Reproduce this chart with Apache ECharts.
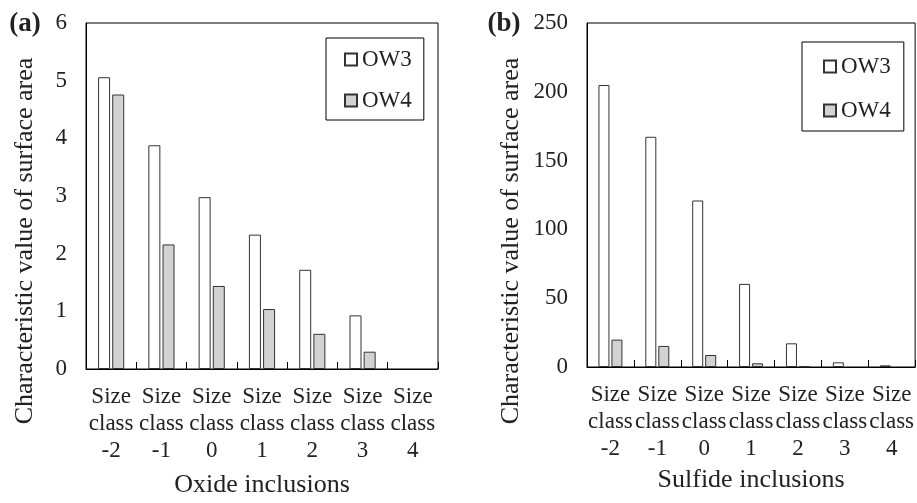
<!DOCTYPE html>
<html>
<head>
<meta charset="utf-8">
<script src="https://cdn.jsdelivr.net/npm/echarts@6/dist/echarts.min.js"></script>
<style>html,body{margin:0;padding:0;background:#fff;}#c{width:917px;height:503px;}</style>
</head>
<body>
<div id="c"></div>
<script>
const categories = ['Size\nclass\n-2','Size\nclass\n-1','Size\nclass\n0','Size\nclass\n1','Size\nclass\n2','Size\nclass\n3','Size\nclass\n4'];
// null = no visible bar in the reference
const oxideOW3 = [5.06, 3.88, 2.98, 2.33, 1.72, 0.93, null];
const oxideOW4 = [4.76, 2.16, 1.44, 1.04, 0.61, 0.30, null];
const sulfideOW3 = [204.9, 167.3, 121.0, 60.4, 17.2, 3.4, 1.2];
const sulfideOW4 = [19.9, 15.3, 8.7, 2.7, 0.4, null, null];
const seriesNames = ['OW3', 'OW4'];
const oxideTicks = {min: 0, max: 6, interval: 1};
const sulfideTicks = {min: 0, max: 250, interval: 50};

const FONT = '"Liberation Serif", "Times New Roman", serif';
const INK = '#222';
const chart = echarts.init(document.getElementById('c'), null, {renderer: 'canvas'});

function xAx(idx, name, gap) {
  return {
    type: 'category', gridIndex: idx, data: categories,
    name: name, nameLocation: 'middle', nameGap: gap,
    nameTextStyle: {fontFamily: FONT, fontSize: 26, color: INK},
    axisLine: {lineStyle: {color: '#000', width: 1}},
    axisTick: {show: true, inside: true, length: 7, lineStyle: {color: '#000'}},
    axisLabel: {interval: 0, fontFamily: FONT, fontSize: 23, lineHeight: 27, color: INK, margin: 14},
    splitLine: {show: false}
  };
}
function yAx(idx, t) {
  return {
    type: 'value', gridIndex: idx, min: t.min, max: t.max, interval: t.interval,
    axisLine: {show: true, lineStyle: {color: '#000', width: 1}},
    axisTick: {show: false},
    axisLabel: {fontFamily: FONT, fontSize: 23, color: INK, margin: 19},
    splitLine: {show: false}
  };
}
function bar(name, idx, data, fill, bw) {
  return {
    name: name, type: 'bar', xAxisIndex: idx, yAxisIndex: idx, data: data,
    barWidth: bw, barGap: '18%',
    itemStyle: {color: fill, borderColor: '#333', borderWidth: 1},
    emphasis: {disabled: true}
  };
}
function legend(left, top, padding, gap) {
  return {
    data: seriesNames, orient: 'vertical', left: left, top: top,
    padding: padding, itemGap: gap, itemWidth: 12, itemHeight: 12, icon: 'rect',
    borderColor: '#000', borderWidth: 1,
    textStyle: {fontFamily: FONT, fontSize: 23, lineHeight: 23, color: INK},
    selectedMode: false
  };
}

chart.setOption({
  animation: false,
  grid: [
    {left: 86, top: 23, right: 479, bottom: 128, show: true, borderColor: '#000', borderWidth: 1},
    {left: 587, top: 23, right: 1, bottom: 136, show: true, borderColor: '#000', borderWidth: 1}
  ],
  xAxis: [xAx(0, 'Oxide inclusions', 103), xAx(1, 'Sulfide inclusions', 100)],
  yAxis: [yAx(0, oxideTicks), yAx(1, sulfideTicks)],
  legend: [
    legend(326, 38, [10, 12, 8, 18], 18),
    legend(802, 42, [13, 13, 9, 21], 21)
  ],
  series: [
    bar(seriesNames[0], 0, oxideOW3, '#ffffff', 12),
    bar(seriesNames[1], 0, oxideOW4, '#d2d2d2', 12),
    bar(seriesNames[0], 1, sulfideOW3, '#ffffff', 11),
    bar(seriesNames[1], 1, sulfideOW4, '#d2d2d2', 11)
  ],
  graphic: [
    {type: 'text', x: 25, y: 241, rotation: Math.PI / 2,
     style: {text: 'Characteristic value of surface area', font: '26px ' + FONT, fill: INK, textAlign: 'center', textVerticalAlign: 'middle'}},
    {type: 'text', x: 511, y: 241, rotation: Math.PI / 2,
     style: {text: 'Characteristic value of surface area', font: '26px ' + FONT, fill: INK, textAlign: 'center', textVerticalAlign: 'middle'}},
    {type: 'text', x: 25, y: 24,
     style: {text: '(a)', font: 'bold 27px ' + FONT, fill: INK, textAlign: 'center', textVerticalAlign: 'middle'}},
    {type: 'text', x: 504, y: 24,
     style: {text: '(b)', font: 'bold 27px ' + FONT, fill: INK, textAlign: 'center', textVerticalAlign: 'middle'}}
  ]
});
</script>
</body>
</html>
